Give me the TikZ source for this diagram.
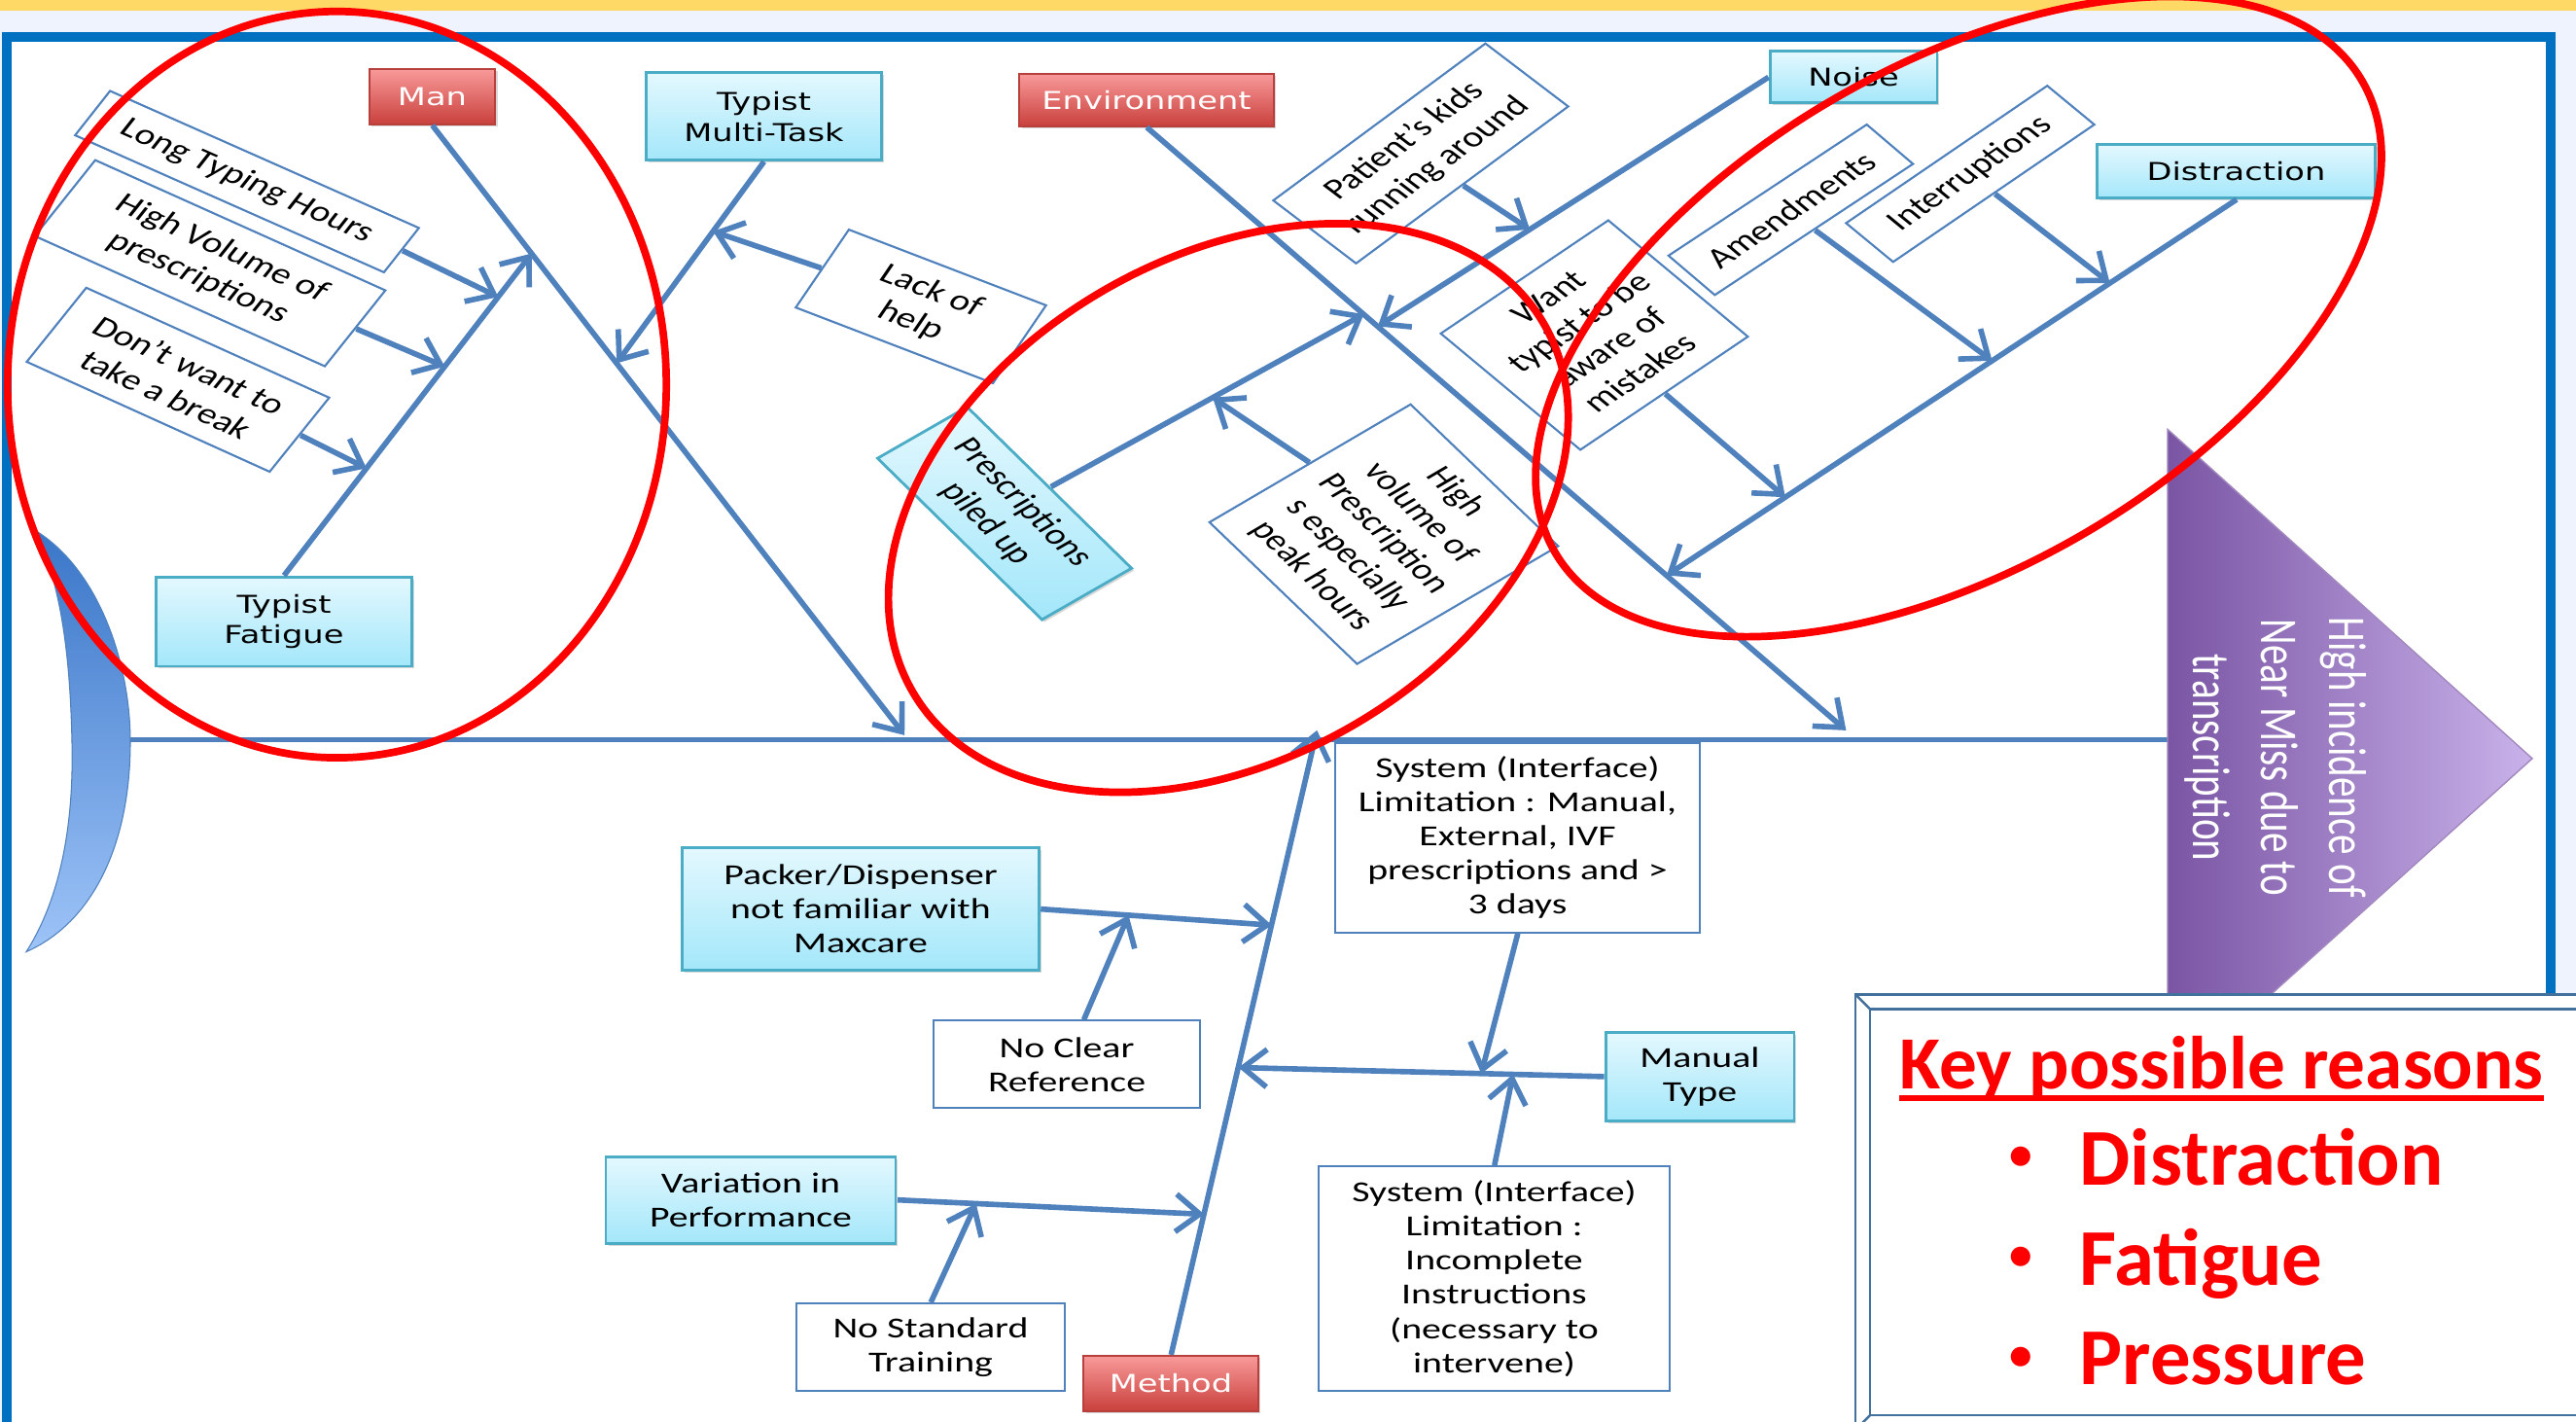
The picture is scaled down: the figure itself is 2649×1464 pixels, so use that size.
\documentclass[tikz,border=0pt]{standalone}
\usepackage{fontspec}
\setmainfont{Carlito}
\newfontfamily\verdana{DejaVu Sans}
\usetikzlibrary{arrows.meta,calc,shadows}

\definecolor{bonecol}{HTML}{4F81BD}
\definecolor{framecol}{HTML}{0070C0}
\definecolor{bandcol}{HTML}{FFD966}
\definecolor{pagecol}{HTML}{EEF3FD}
\definecolor{cyantop}{HTML}{E4F8FE}
\definecolor{cyanbot}{HTML}{A3E7FA}
\definecolor{cyanline}{HTML}{4BACC6}
\definecolor{redtop}{HTML}{F89A9A}
\definecolor{redbot}{HTML}{C9403C}
\definecolor{redline}{HTML}{B8403C}
\definecolor{tailtop}{HTML}{3A76C8}
\definecolor{tailbot}{HTML}{9EC4F8}
\definecolor{headleft}{HTML}{7A55A4}
\definecolor{headright}{HTML}{C9B2EA}
\definecolor{keyline}{HTML}{41719C}

\begin{document}
\begin{tikzpicture}[x=0.0075cm, y=-0.01cm, xscale=1.3333, transform shape,
    bone/.style={bonecol, line width=1.6pt, -{Straight Barb[length=7pt,width=11pt]}},
    catfont/.style={font=\verdana\fontsize{7.2}{9}\selectfont},
    causefont/.style={font=\fontsize{8.5}{10}\selectfont},
    boxshadow/.style={drop shadow={shadow xshift=0.7pt, shadow yshift=-0.7pt, opacity=0.3}},
    redbox/.style={catfont, boxshadow, draw=redline, top color=redtop, bottom color=redbot, text=white, line width=0.6pt, inner sep=1pt},
    cyanbox/.style={boxshadow, draw=cyanline, top color=cyantop, bottom color=cyanbot, line width=0.8pt, align=center, inner sep=1pt},
    causebox/.style={causefont, draw=bonecol, fill=white, line width=0.6pt, align=center, inner sep=1pt}]
	\useasboundingbox (0,0) rectangle (2649,1464);
	\clip (0,0) rectangle (2649,1464);

	% Slide background and frame
	\fill[pagecol] (0,0) rectangle (2649,1464);
	\fill[bandcol] (0,0) rectangle (2649,11);
	\fill[white] (12,43) rectangle (2618,1520);
	\draw[framecol, line width=0.1cm] (7,38) rectangle (2623,1520);

	% Tail, spine and head
	\path[top color=tailtop, bottom color=tailbot, draw=bonecol, line width=0.3pt]
		(36,546) .. controls (100,585) and (134,680) .. (134,764) .. controls (134,870) and (95,950) .. (27,980)
		.. controls (62,925) and (76,850) .. (74,764) .. controls (72,670) and (62,600) .. (36,546) -- cycle;
	\coordinate (spinestart) at (134,762);
	\coordinate (spineend) at (2229,762);
	\draw[bonecol, line width=1.4pt] (spinestart) -- (spineend);
	\path[left color=headleft, right color=headright, draw=headleft!70] (2229,442) -- (2604,781) -- (2229,1120) -- cycle;
	\node[rotate=-90, text=white, align=center, font=\fontsize{11.7}{14.9}\selectfont] (effect) at (2340,780)
		{High incidence of\\Near Miss due to\\transcription};

	% Man
	\node[redbox, minimum width=0.97cm, minimum height=0.57cm] (man) at (444.5,99.5) {Man};
	\node[cyanbox, catfont, minimum width=1.82cm, minimum height=0.9cm] (multitask) at (785.5,120) {Typist\\Multi-Task};
	\node[cyanbox, catfont, minimum width=1.98cm, minimum height=0.92cm] (fatigue) at (292,640) {Typist\\Fatigue};
	\node[causebox, rotate=-30.6, minimum width=2.77cm, minimum height=0.53cm] (longhours) at (254,187) {Long Typing Hours};
	\node[causebox, rotate=-30.9, minimum width=2.61cm, minimum height=0.91cm] (hivolume) at (216,271) {High Volume of\\prescriptions};
	\node[causebox, rotate=-31.1, minimum width=2.19cm, minimum height=0.89cm] (nobreak) at (183,391) {Don’t want to\\take a break};
	\node[causebox, rotate=-27.1, minimum width=1.71cm, minimum height=0.9cm] (lackhelp) at (947,315.5) {Lack of\\help};

	% Environment
	\node[redbox, minimum width=1.965cm, minimum height=0.54cm] (envir) at (1179,103) {Environment};
	\node[cyanbox, catfont, minimum width=1.29cm, minimum height=0.53cm] (noise) at (1906,79.5) {Noise};
	\node[cyanbox, catfont, minimum width=2.15cm, minimum height=0.55cm] (distract) at (2299.5,176.5) {Distraction};
	\node[causebox, rotate=44.6, minimum width=2.3cm, minimum height=0.91cm] (kids) at (1461,158) {Patient’s kids\\running around};
	\node[causebox, rotate=42, minimum width=1.74cm, minimum height=1.61cm] (wanttypist) at (1639.5,345) {Want\\typist to be\\aware of\\mistakes};
	\node[causebox, rotate=41.4, minimum width=2.04cm, minimum height=0.54cm] (amend) at (1841.5,216) {Amendments};
	\node[causebox, rotate=42.3, minimum width=2.1cm, minimum height=0.54cm] (interrupt) at (2026,179) {Interruptions};
	\node[cyanbox, causefont, rotate=-52.6, minimum width=2.09cm, minimum height=0.87cm] (piledup) at (1033,528.5) {Prescriptions\\piled up};
	\node[causebox, rotate=-52, minimum width=1.85cm, minimum height=1.97cm] (peakvolume) at (1423,550) {High\\volume of\\Prescription\\s especially\\peak hours};

	% Method
	\node[redbox, minimum width=1.35cm, minimum height=0.57cm] (method) at (1204,1424.5) {Method};
	\node[cyanbox, causefont, minimum width=2.75cm, minimum height=1.26cm] (packer) at (885,936) {Packer/Dispenser\\not familiar with\\Maxcare};
	\node[causebox, minimum width=2.055cm, minimum height=0.9cm] (noclear) at (1097,1096) {No Clear\\Reference};
	\node[causebox, minimum width=2.81cm, minimum height=1.95cm] (sysmanual) at (1560.5,862.5) {System (Interface)\\Limitation : Manual,\\External, IVF\\prescriptions and >\\3 days};
	\node[cyanbox, causefont, minimum width=1.455cm, minimum height=0.91cm] (manualtype) at (1748,1108.5) {Manual\\Type};
	\node[causebox, minimum width=2.71cm, minimum height=2.31cm] (sysincomplete) at (1536.5,1316.5) {System (Interface)\\Limitation :\\Incomplete\\Instructions\\(necessary to\\intervene)};
	\node[cyanbox, causefont, minimum width=2.236cm, minimum height=0.89cm] (variation) at (772,1235.5) {Variation in\\Performance};
	\node[causebox, minimum width=2.07cm, minimum height=0.9cm] (notraining) at (957,1387) {No Standard\\Training};

	% Where the bones meet
	\coordinate (mantip) at (930,757);
	\coordinate (envtip) at (1898,752);
	\coordinate (methodtip) at (1354,752);
	\coordinate (fatiguejoin) at ($(man.south)!0.21!(mantip)$);
	\coordinate (taskjoin) at ($(man.south)!0.39!(mantip)$);
	\coordinate (noisejoin) at ($(envir.south)!0.33!(envtip)$);
	\coordinate (presjoin) at ($(envir.south)!0.31!(envtip)$);
	\coordinate (distjoin) at ($(envir.south)!0.743!(envtip)$);
	\coordinate (packerjoin) at ($(method.north)!0.688!(methodtip)$);
	\coordinate (manualjoin) at ($(method.north)!0.46!(methodtip)$);
	\coordinate (variationjoin) at ($(method.north)!0.225!(methodtip)$);

	% Main bones
	\draw[bone] (man.south) -- (mantip);
	\draw[bone] (envir.south) -- (envtip);
	\draw[bone] (method.north) -- (methodtip);
	\draw[bone] (fatigue.north) -- (fatiguejoin);
	\draw[bone] (multitask.south) -- (taskjoin);
	\draw[bone] (noise.west) -- (noisejoin);
	\draw[bone] (piledup.north) -- (presjoin);
	\draw[bone] (distract.south) -- (distjoin);
	\draw[bone] (packer.east) -- (packerjoin);
	\draw[bone] (manualtype.west) -- (manualjoin);
	\draw[bone] (variation.east) -- (variationjoin);

	% Small causes
	\draw[bone] (longhours.east) -- ($(fatigue.north)!0.865!(fatiguejoin)$);
	\draw[bone] (hivolume.east) -- ($(fatigue.north)!0.649!(fatiguejoin)$);
	\draw[bone] (nobreak.east) -- ($(fatigue.north)!0.333!(fatiguejoin)$);
	\draw[bone] (lackhelp.west) -- ($(multitask.south)!0.346!(taskjoin)$);
	\draw[bone] (kids.south) -- ($(noise.west)!0.611!(noisejoin)$);
	\draw[bone] (interrupt.south) -- ($(distract.south)!0.2225!(distjoin)$);
	\draw[bone] (amend.south) -- ($(distract.south)!0.429!(distjoin)$);
	\draw[bone] (wanttypist.south) -- ($(distract.south)!0.792!(distjoin)$);
	\draw[bone] (peakvolume.west) -- ($(piledup.north)!0.517!(presjoin)$);
	\draw[bone] ([xshift=0.13cm]noclear.north) -- ($(packer.east)!0.38!(packerjoin)$);
	\draw[bone] (sysmanual.south) -- ($(manualtype.west)!0.336!(manualjoin)$);
	\draw[bone] (sysincomplete.north) -- ($(manualtype.west)!0.249!(manualjoin)$);
	\draw[bone] (notraining.north) -- ($(variation.east)!0.256!(variationjoin)$);

	\begin{scope}[reset cm, x=0.01cm, y=-0.01cm]
		% Key box
		\draw[keyline, fill=white, line width=0.7pt] (1911,1024) rectangle (2680,1472);
		\draw[keyline, line width=0.7pt] (1926,1039) rectangle (2665,1457);
		\draw[keyline, line width=0.7pt] (1911,1024) -- (1926,1039);
		\draw[keyline, line width=0.7pt] (1911,1472) -- (1926,1457);
		\node[text=red, font=\bfseries\fontsize{22}{26}\selectfont, inner sep=0pt, anchor=base] (keytitle) at (2288,1121) {Key possible reasons};
		\draw[red, line width=1.7pt] ([yshift=-0.1cm]keytitle.base west) -- ([yshift=-0.1cm]keytitle.base east);
		\foreach \word/\y [count=\i] in {Distraction/1220, Fatigue/1323, Pressure/1426} {
			\node[text=red, font=\bfseries\fontsize{13.5}{16}\selectfont, inner sep=0pt] (bullet\i) at (2081,\y-27) {\textbullet};
			\node[text=red, font=\bfseries\fontsize{23.6}{28}\selectfont, inner sep=0pt, anchor=base west] (reason\i) at (2141,\y) {\word};
		}

		% Red marks
		\draw[red, line width=2.2pt] (347,396) ellipse [x radius=3.39cm, y radius=3.84cm];
		\draw[red, line width=2.2pt, rotate around={30.3:(1265,523)}] (1265,523) ellipse [x radius=3.76cm, y radius=2.58cm];
		\draw[red, line width=2.2pt, rotate around={30.3:(2017,326)}] (2017,326) ellipse [x radius=4.81cm, y radius=2.58cm];
	\end{scope}
\end{tikzpicture}
\end{document}
